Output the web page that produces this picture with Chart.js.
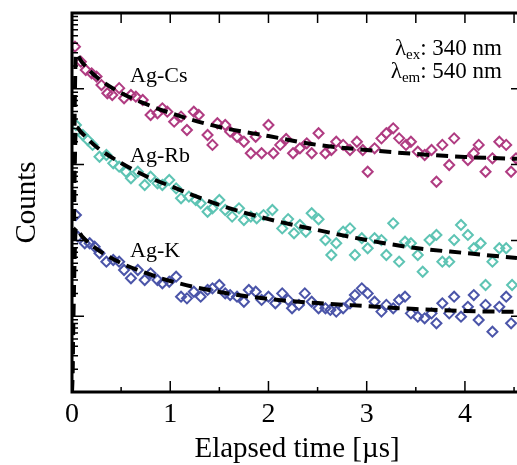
<!DOCTYPE html>
<html>
<head>
<meta charset="utf-8">
<script src="https://cdn.jsdelivr.net/npm/chart.js@4/dist/chart.umd.min.js"></script>
<style>
  html, body { margin: 0; padding: 0; background: #fff; overflow: hidden; }
  #wrap { width: 517px; height: 465px; }
  canvas { display: block; }
</style>
</head>
<body>
<div id="wrap"><canvas id="decayChart" width="517" height="465"></canvas></div>
<script>
// --- measured decays (time in µs, counts on log axis) ---
const timeCs = [0.03,0.09,0.14,0.20,0.25,0.30,0.36,0.41,0.48,0.53,0.60,0.65,0.72,0.80,0.87,0.92,0.97,
  1.04,1.11,1.17,1.24,1.29,1.38,1.43,1.48,1.56,1.61,1.68,1.75,1.82,1.87,1.93,
  2.00,2.05,2.12,2.18,2.25,2.32,2.39,2.44,2.51,2.58,2.64,2.69,2.76,2.83,2.90,2.96,
  3.01,3.08,3.15,3.20,3.27,3.33,3.40,3.45,3.52,3.59,3.66,3.71,3.77,3.84,3.89,
  4.03,4.09,4.14,4.21,4.28,4.35,4.42,4.47,4.52];
const countsCs = [36000,22800,17700,16000,14500,11200,8730,8280,10200,7500,8280,7870,7110,4510,4750,5530,4990,
  3680,4290,2860,4990,4510,2460,1820,3510,3330,2720,2330,2000,1410,2330,1410,
  3330,1410,1820,2180,1410,1640,1910,1410,2590,1410,1560,2000,1820,1560,2000,1560,
  805,1640,2220,2590,3010,2220,1820,2000,1480,1340,1560,594,1820,988,2220,
  1150,1410,1820,805,1210,2000,1820,805,1210];

const timeRb = [0.04,0.11,0.16,0.21,0.28,0.35,0.42,0.48,0.55,0.60,0.67,0.74,0.80,0.87,0.92,0.99,
  1.06,1.11,1.19,1.26,1.31,1.38,1.43,1.50,1.56,1.63,1.70,1.75,1.82,1.88,1.95,
  2.04,2.14,2.20,2.26,2.32,2.38,2.44,2.51,2.58,2.64,2.69,2.76,2.83,2.88,2.95,
  3.01,3.08,3.15,3.20,3.27,3.33,3.39,3.45,3.52,3.57,3.64,3.71,3.77,3.84,3.89,3.96,
  4.03,4.09,4.16,4.21,4.28,4.35,4.42,4.48];
const countsRb = [3330,2460,2110,1820,1270,1340,1040,938,805,659,805,538,692,566,538,627,
  486,359,378,341,309,239,265,341,252,206,265,186,206,196,216,
  252,144,191,124,160,130,228,190,101,64.2,91.6,130,144,64.2,107,
  78.7,107,101,64.2,168,52.4,96.2,91.6,64.2,38.6,101,118,52.4,52.4,101,160,
  118,78.7,91.6,25.8,52.4,78.7,78.7,25.8];

const timeK = [0.04,0.06,0.13,0.18,0.23,0.28,0.35,0.42,0.48,0.53,0.60,0.67,0.74,0.80,0.87,0.92,0.99,
  1.06,1.11,1.17,1.24,1.31,1.38,1.43,1.50,1.56,1.61,1.68,1.75,1.80,1.87,1.93,
  2.00,2.07,2.14,2.20,2.24,2.31,2.37,2.44,2.51,2.58,2.63,2.69,2.76,2.83,2.88,2.95,
  3.01,3.08,3.15,3.20,3.27,3.33,3.39,3.45,3.52,3.59,3.66,3.71,3.77,3.84,3.89,3.96,
  4.03,4.09,4.14,4.21,4.28,4.35,4.42,4.47];
const countsK = [216,112,91.6,91.6,82.6,67.6,52.4,55.1,52.4,40.7,31.6,40.7,30.0,36.8,30.0,27.2,28.5,
  33.2,18.1,17.2,21.0,18.1,22.2,23.3,25.8,20.0,19.0,18.1,15.5,22.2,21.0,16.4,
  18.1,14.8,20.0,16.4,12.7,14.1,20.0,15.5,12.7,12.7,12.1,11.5,12.7,14.8,19.0,23.3,
  20.0,15.5,11.5,14.1,12.7,16.4,18.1,10.9,9.85,9.38,10.9,8.06,14.8,10.9,18.1,9.85,
  13.3,19.0,8.91,14.1,6.25,13.3,18.1,8.06];

// --- fitted curves (dashed) ---
const fitTime = [0, 0.04, 0.1, 0.25, 0.5, 0.75, 1, 1.5, 2, 2.5, 3, 3.5, 4, 4.53];
const fitCs = [1, 29000, 22600, 14300, 8810, 6310, 4800, 3130, 2380, 1820, 1560, 1380, 1260, 1190];
const fitRb = [1, 3130, 2610, 1710, 1050, 708, 522, 293, 191, 137, 101, 79.4, 68.2, 58.6];
const fitK = [1, 146, 114, 77.1, 50.3, 37.2, 29.1, 20.9, 16.9, 14.9, 13.6, 12.4, 11.7, 11.4];

const xTickLabels = [0, 1, 2, 3, 4];
const seriesNames = ['Ag-Cs', 'Ag-Rb', 'Ag-K'];
const seriesLabelAt = [[130, 82], [130, 162], [130, 257]];   // x, baseline (px)

const SERIF = '"Liberation Serif", "Times New Roman", serif';

function pairs(xs, ys) {
  return xs.map((x, i) => ({ x, y: ys[i] }));
}

function markers(label, xs, ys, color) {
  return {
    label,
    data: pairs(xs, ys),
    pointStyle: 'rectRot',
    pointRadius: 5,
    pointBorderWidth: 2,
    pointBorderColor: color,
    pointBackgroundColor: 'rgba(0,0,0,0)',
    showLine: false,
    order: 2
  };
}

function fitLine(label, ys) {
  return {
    label,
    data: pairs(fitTime, ys),
    showLine: true,
    borderColor: '#000',
    borderWidth: 4,
    borderDash: [12, 7],
    pointRadius: 0,
    cubicInterpolationMode: 'monotone',
    order: 1
  };
}

// axes, ticks and text drawn on top of the plot
const framePlugin = {
  id: 'framePlugin',
  afterDatasetsDraw(chart) {
    const ctx = chart.ctx;
    const xs = chart.scales.x, ys = chart.scales.y;
    const a = chart.chartArea;
    ctx.save();
    ctx.strokeStyle = '#000';
    ctx.fillStyle = '#000';

    // tick marks
    ctx.lineWidth = 1.5;
    ctx.beginPath();
    for (let v = 0; v <= 4.5; v += 0.5) {
      const px = xs.getPixelForValue(v);
      const major = Number.isInteger(v);
      ctx.moveTo(px, a.bottom);
      ctx.lineTo(px, a.bottom - (major ? 11 : 5));
      ctx.moveTo(px, a.top);
      ctx.lineTo(px, a.top + 10);
    }
    for (let d = 0; d < 5; d++) {
      for (let m = 1; m <= 9; m++) {
        const py = ys.getPixelForValue(m * Math.pow(10, d));
        ctx.moveTo(a.left, py);
        ctx.lineTo(a.left + (m === 1 ? 12 : 6), py);
      }
    }
    for (let d = 0; d <= 5; d++) {
      const py = ys.getPixelForValue(Math.pow(10, d));
      ctx.moveTo(a.right, py);
      ctx.lineTo(a.right - 6, py);
    }
    ctx.stroke();

    // frame lines
    ctx.lineWidth = 3;
    ctx.beginPath();
    ctx.moveTo(a.right + 2, a.top);
    ctx.lineTo(a.left, a.top);
    ctx.lineTo(a.left, a.bottom);
    ctx.lineTo(a.right + 2, a.bottom);
    ctx.stroke();

    // x tick labels
    ctx.font = '28px ' + SERIF;
    ctx.textAlign = 'center';
    ctx.textBaseline = 'alphabetic';
    xTickLabels.forEach(v => ctx.fillText(String(v), xs.getPixelForValue(v), 422));

    // axis titles
    ctx.font = '29px ' + SERIF;
    ctx.fillText('Elapsed time [\u00b5s]', 297, 457);
    ctx.save();
    ctx.translate(35, (a.top + a.bottom) / 2);
    ctx.rotate(-Math.PI / 2);
    ctx.fillText('Counts', 0, 0);
    ctx.restore();

    // series names
    ctx.font = '22px ' + SERIF;
    ctx.textAlign = 'left';
    seriesNames.forEach((s, i) => ctx.fillText(s, seriesLabelAt[i][0], seriesLabelAt[i][1]));

    // excitation / emission wavelengths
    const lambdaLine = (sub, rest, right, base) => {
      ctx.font = '23px ' + SERIF;
      const wL = ctx.measureText('\u03bb').width;
      const wR = ctx.measureText(rest).width;
      ctx.font = '15px ' + SERIF;
      const wS = ctx.measureText(sub).width;
      let x = right - wL - wS - wR;
      ctx.font = '23px ' + SERIF;
      ctx.fillText('\u03bb', x, base);
      x += wL;
      ctx.font = '15px ' + SERIF;
      ctx.fillText(sub, x, base + 4);
      x += wS;
      ctx.font = '23px ' + SERIF;
      ctx.fillText(rest, x, base);
    };
    lambdaLine('ex', ': 340 nm', 502, 55);
    lambdaLine('em', ': 540 nm', 502, 78);

    ctx.restore();
  }
};

const ctx = document.getElementById('decayChart').getContext('2d');
new Chart(ctx, {
  type: 'scatter',
  data: {
    datasets: [
      markers('Ag-Cs', timeCs, countsCs, '#B03C82'),
      markers('Ag-Rb', timeRb, countsRb, '#5EC4B4'),
      markers('Ag-K', timeK, countsK, '#4B55A9'),
      fitLine('Ag-Cs fit', fitCs),
      fitLine('Ag-Rb fit', fitRb),
      fitLine('Ag-K fit', fitK)
    ]
  },
  options: {
    responsive: false,
    animation: false,
    layout: { autoPadding: false, padding: { left: 72, right: 0, top: 13, bottom: 73 } },
    scales: {
      x: { type: 'linear', min: 0, max: 4.53, display: false },
      y: { type: 'logarithmic', min: 1, max: 100000, display: false }
    },
    plugins: {
      legend: { display: false },
      tooltip: { enabled: false }
    }
  },
  plugins: [framePlugin]
});
</script>
</body>
</html>
